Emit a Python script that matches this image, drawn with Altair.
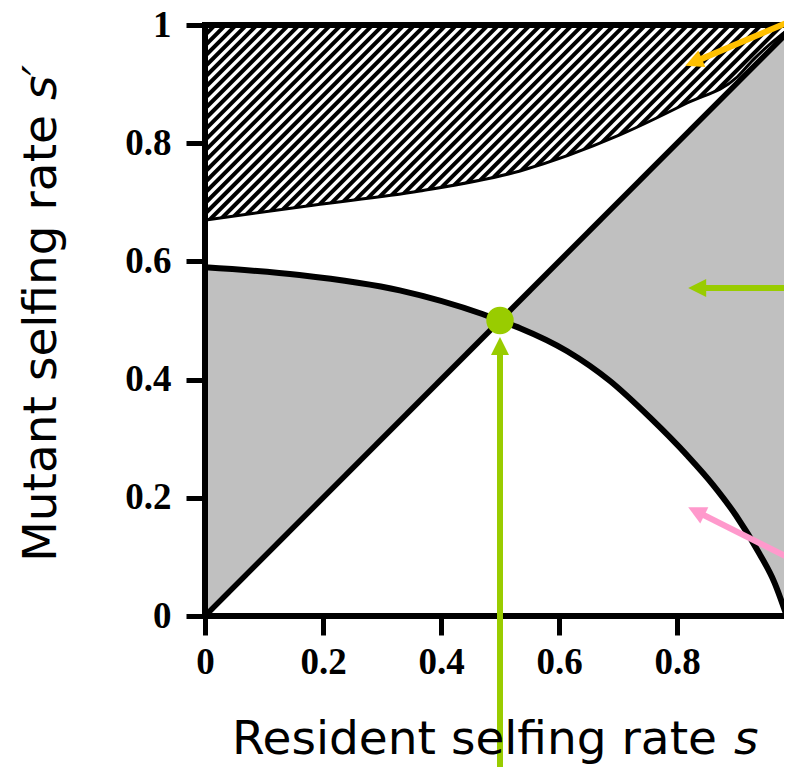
import altair as alt
import numpy as np
import pandas as pd

# ---------------- data ----------------
TICKS = [0, 0.2, 0.4, 0.6, 0.8, 1]

# lower (black, thick) boundary of the grey region
LOWER_X = [0, 0.16, 0.33, 0.47, 0.5, 0.534, 0.614, 0.686, 0.754, 0.817, 0.861, 0.90, 0.94, 0.965, 0.986, 1.0]
LOWER_Y = [0.590, 0.577, 0.551, 0.511, 0.500, 0.487, 0.448, 0.398, 0.336, 0.272, 0.222, 0.170, 0.105, 0.057, 0.0, 0.0]

# upper (thin) boundary of the hatched region
UPPER_X = [0, 0.183, 0.364, 0.534, 0.703, 0.817, 0.902, 0.929, 0.975, 1.0]
UPPER_Y = [0.670, 0.695, 0.719, 0.753, 0.814, 0.868, 0.912, 0.941, 0.982, 1.0]

DIAG_X = [0, 1]
DIAG_Y = [0, 1]

# arrows: start point -> tip point
ARROW_COLORS = ["#FFC000", "#99CC00", "#FF99CC", "#99CC00"]
ARROW_X0 = [1.06, 1.06, 1.06, 0.5]
ARROW_Y0 = [1.035, 0.555, 0.063, -0.28]
ARROW_X1 = [0.814, 0.819, 0.819, 0.5]
ARROW_Y1 = [0.931, 0.555, 0.184, 0.472]

POINT_X = [0.5]
POINT_Y = [0.5]

X_TITLE = "Resident selfing rate"
X_TITLE_VAR = "s"
Y_TITLE = "Mutant selfing rate"
Y_TITLE_VAR = "s\u2032"

GREY = "#C0C0C0"
HATCH_STEP = 0.0178

# ---------------- derived tables ----------------
lower_df = pd.DataFrame({"x": LOWER_X, "lower": LOWER_Y, "diag": LOWER_X})
lower_line_df = lower_df.iloc[:-1]
upper_df = pd.DataFrame({"x": UPPER_X, "upper": UPPER_Y, "zero": [0.0] * len(UPPER_X)})
diag_df = pd.DataFrame({"x": DIAG_X, "y": DIAG_Y})

cs = np.arange(0.004, 1.0, HATCH_STEP)
ext = 0.02
hatch_df = pd.DataFrame({"hx1": -ext, "hy1": cs - ext, "hx2": 1 - cs + ext, "hy2": 1 + ext})

frame_df = pd.DataFrame({
    "fx1": [0, 0, 0], "fy1": [0, 0, 1],
    "fx2": [0, 1, 1], "fy2": [1, 0, 1],
})

ax0 = np.array(ARROW_X0); ay0 = np.array(ARROW_Y0)
ax1 = np.array(ARROW_X1); ay1 = np.array(ARROW_Y1)
dx = ax1 - ax0; dy = ay1 - ay0
ln = np.hypot(dx, dy)
ux, uy = dx / ln, dy / ln
angle = (np.degrees(np.arctan2(ux, uy)) + 360) % 360  # clockwise from up (screen)
short = 10 / 590
arrow_df = pd.DataFrame({
    "x0": ax0, "y0": ay0,
    "xe": ax1 - ux * short, "ye": ay1 - uy * short,
    "xt": ax1, "yt": ay1,
    "angle": angle, "color": ARROW_COLORS,
})
point_df = pd.DataFrame({"x": POINT_X, "y": POINT_Y})

# ---------------- scales / axes ----------------
xs = alt.Scale(domain=[0, 1], nice=False, zero=False)
ys = alt.Scale(domain=[0, 1], nice=False, zero=False)

common_axis = dict(
    values=TICKS, format="~g", title=None, domain=False, grid=False,
    ticks=True, tickColor="black", tickWidth=5, tickSize=19,
    labelFont="Liberation Serif", labelFontWeight="bold", labelFontSize=37,
    labelColor="black", labelFlush=False, labelOverlap=False,
)
xaxis = alt.Axis(labelPadding=9, **common_axis)
yaxis = alt.Axis(labelPadding=15, **common_axis)


def X(field):
    return alt.X(field, scale=xs, axis=xaxis)


def Y(field):
    return alt.Y(field, scale=ys, axis=yaxis)


# ---------------- layers ----------------
hatch = alt.Chart(hatch_df).mark_rule(color="black", strokeWidth=4, clip=True).encode(
    x=X("hx1:Q"), y=Y("hy1:Q"), x2="hx2:Q", y2="hy2:Q",
)

white = alt.Chart(upper_df).mark_area(color="white", opacity=1, interpolate="monotone").encode(
    x=X("x:Q"), y=Y("upper:Q"), y2="zero:Q",
)

grey = alt.Chart(lower_df).mark_area(color=GREY, opacity=1, interpolate="monotone").encode(
    x=X("x:Q"), y=Y("lower:Q"), y2="diag:Q",
)

upper_line = alt.Chart(upper_df).mark_line(color="black", strokeWidth=3, interpolate="monotone").encode(
    x=X("x:Q"), y=Y("upper:Q"),
)

lower_line = alt.Chart(lower_line_df).mark_line(color="black", strokeWidth=6, interpolate="monotone").encode(
    x=X("x:Q"), y=Y("lower:Q"),
)

diag = alt.Chart(diag_df).mark_line(color="black", strokeWidth=5.5).encode(
    x=X("x:Q"), y=Y("y:Q"),
)

frame = alt.Chart(frame_df).mark_rule(color="black", strokeWidth=6, strokeCap="square").encode(
    x=X("fx1:Q"), y=Y("fy1:Q"), x2="fx2:Q", y2="fy2:Q",
)

arrow_lines = alt.Chart(arrow_df).mark_rule(strokeWidth=6, clip=False).encode(
    x=X("x0:Q"), y=Y("y0:Q"), x2="xe:Q", y2="ye:Q",
    color=alt.Color("color:N", scale=None),
)

arrow_heads = alt.Chart(arrow_df).mark_point(
    shape="M0,0L0.5,1L-0.5,1Z", filled=True, opacity=1, size=1296, strokeWidth=0, clip=False
).encode(
    x=X("xt:Q"), y=Y("yt:Q"),
    angle=alt.Angle("angle:Q", scale=None),
    color=alt.Color("color:N", scale=None),
)

dot = alt.Chart(point_df).mark_circle(color="#99CC00", opacity=1, size=755).encode(
    x=X("x:Q"), y=Y("y:Q"),
)

title_font = dict(font="DejaVu Sans", fontSize=47, color="black")

xt_main = alt.Chart(pd.DataFrame({"t": [X_TITLE]})).mark_text(
    align="left", baseline="alphabetic", **title_font
).encode(x=alt.value(27), y=alt.value(729), text="t:N")

xt_var = alt.Chart(pd.DataFrame({"t": [X_TITLE_VAR]})).mark_text(
    align="left", baseline="alphabetic", fontStyle="italic", **title_font
).encode(x=alt.value(529), y=alt.value(729), text="t:N")

yt_main = alt.Chart(pd.DataFrame({"t": [Y_TITLE]})).mark_text(
    align="right", baseline="alphabetic", angle=270, **title_font
).encode(x=alt.value(-149), y=alt.value(90), text="t:N")

yt_var = alt.Chart(pd.DataFrame({"t": [Y_TITLE_VAR]})).mark_text(
    align="left", baseline="alphabetic", angle=270, fontStyle="italic", **title_font
).encode(x=alt.value(-149), y=alt.value(75), text="t:N")

chart = alt.layer(
    hatch, white, grey, upper_line, lower_line, diag, frame,
    arrow_lines, arrow_heads, dot,
    xt_main, xt_var, yt_main, yt_var,
).properties(
    width=590, height=591,
    autosize=alt.AutoSizeParams(type="none"),
    padding={"left": 197, "top": 17, "right": -11, "bottom": 151},
    background="white",
).configure_view(strokeWidth=0)

chart.save("out.html", embed_options={"renderer": "svg", "actions": False})
